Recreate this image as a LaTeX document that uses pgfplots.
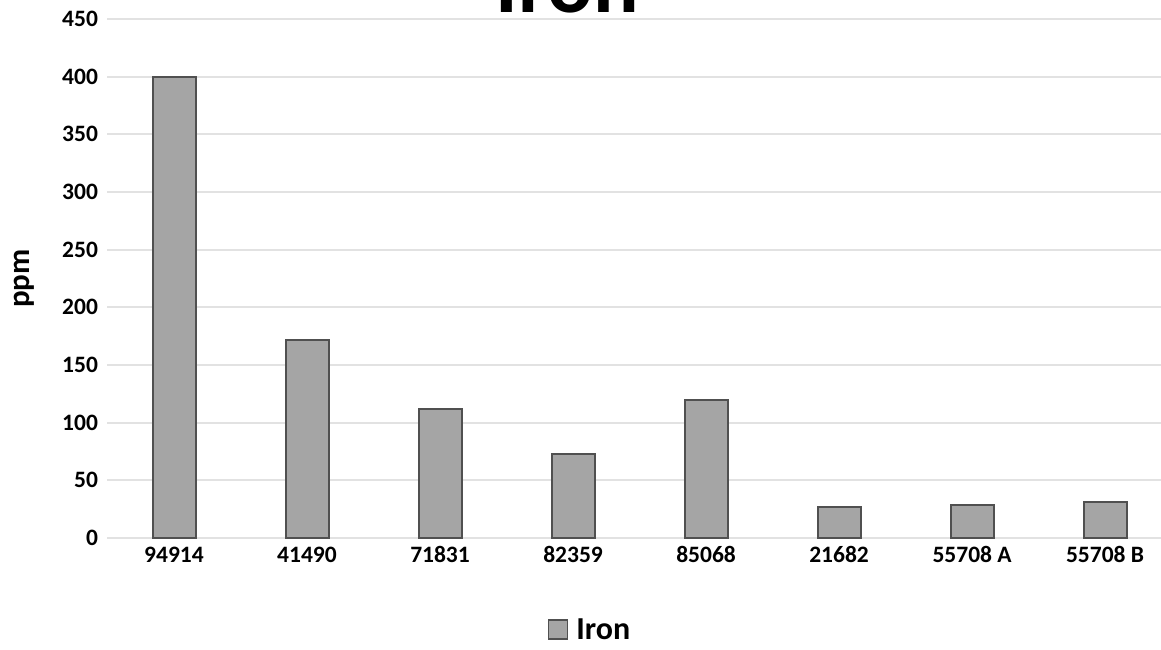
\documentclass[border=0pt]{standalone}
\usepackage{pgfplots}
\pgfplotsset{compat=1.18}
\usepackage{fontspec}
\setmainfont{Carlito}
\definecolor{barfill}{HTML}{A5A5A5}
\definecolor{bardraw}{HTML}{505050}
\definecolor{gridc}{HTML}{E2E2E2}
\begin{document}
\begin{tikzpicture}
\path[use as bounding box] (0pt,0pt) rectangle (1161pt,650pt);
\begin{axis}[
  at={(107.5pt,112pt)}, anchor=south west,
  scale only axis, width=1053.5pt, height=519pt,
  xmin=-0.5, xmax=7.42, ymin=0, ymax=450,
  axis line style={draw=none},
  clip=false,
  ymajorgrids, grid style={gridc, line width=2pt},
  ytick={0,50,...,450},
  xtick={0,...,7},
  xticklabels={94914,41490,71831,82359,85068,21682,55708 A,55708 B},
  major tick length=0pt,
  /pgf/number format/assume math mode=true,
  ticklabel style={font=\bfseries\fontsize{23.5}{23.5}\selectfont, text=black},
  yticklabel style={xshift=-6pt},
  xticklabel style={yshift=-6pt, text height=15pt, text depth=2pt},
  ylabel={ppm},
  every axis y label/.style={at={(axis description cs:-0.0793,0.5)}, rotate=90, anchor=center, font=\bfseries\fontsize{31}{31}\selectfont},
  legend style={draw=none, at={(axis description cs:0.458,-0.177)}, anchor=center, font=\bfseries\fontsize{32}{32}\selectfont, /tikz/every odd column/.append style={column sep=6pt}},
  legend image code/.code={\draw[#1, line width=1.5pt] (0pt,-9pt) rectangle (19pt,10pt);},
]
\addplot[ybar, bar width=43pt, fill=barfill, draw=bardraw, line width=2pt] coordinates {
(0,400) (1,172) (2,112) (3,73) (4,120) (5,27) (6,29) (7,31)};
\addlegendentry{Iron}
\end{axis}
\node[anchor=base, font=\bfseries\fontsize{85}{85}\selectfont] at (567pt,637pt) {Iron};
\end{tikzpicture}
\end{document}
